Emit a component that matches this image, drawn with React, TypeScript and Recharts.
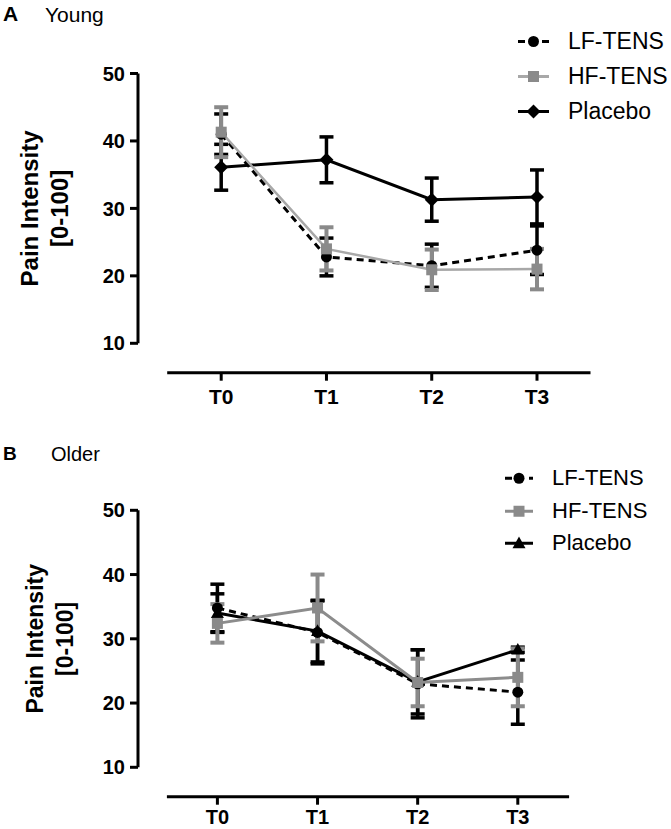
import { LineChart, Line, XAxis, YAxis, ErrorBar, Legend } from "recharts";

const timepoints = ["T0", "T1", "T2", "T3"];
const yTicks = [10, 20, 30, 40, 50];
const seriesNames = ["LF-TENS", "HF-TENS", "Placebo"];

// A: young
const lfYoung = [41.0, 22.8, 21.5, 23.8];
const lfYoungSem = [3.0, 2.8, 3.2, 3.6];
const hfYoung = [41.3, 24.0, 20.9, 21.0];
const hfYoungSem = [3.7, 3.2, 3.0, 3.0];
const placeboYoung = [36.1, 37.2, 31.3, 31.7];
const placeboYoungSem = [3.4, 3.4, 3.2, 4.0];

// B: older
const lfOlder = [34.8, 31.0, 23.0, 21.7];
const lfOlderSem = [3.7, 4.9, 5.3, 5.0];
const hfOlder = [32.4, 34.8, 23.2, 24.0];
const hfOlderSem = [3.0, 5.2, 3.7, 4.5];
const placeboOlder = [34.0, 31.2, 23.3, 28.3];
const placeboOlderSem = [3.0, 4.8, 5.0, 0.4];

const FONT = '"Liberation Sans", Arial, Helvetica, sans-serif';

type Shape = "circle" | "square" | "diamond" | "triangle";

function buildRows(lf: number[], lfE: number[], hf: number[], hfE: number[], pl: number[], plE: number[]) {
  return timepoints.map((t, i) => ({
    t,
    lf: lf[i],
    lfErr: lfE[i],
    hf: hf[i],
    hfErr: hfE[i],
    placebo: pl[i],
    placeboErr: plE[i],
  }));
}

const youngRows = buildRows(lfYoung, lfYoungSem, hfYoung, hfYoungSem, placeboYoung, placeboYoungSem);
const olderRows = buildRows(lfOlder, lfOlderSem, hfOlder, hfOlderSem, placeboOlder, placeboOlderSem);

function Marker({ cx, cy, shape, size, fill }: { cx: number; cy: number; shape: Shape; size: number; fill: string }) {
  const h = size / 2;
  if (shape === "circle") return <circle cx={cx} cy={cy} r={h} fill={fill} />;
  if (shape === "square") return <rect x={cx - h} y={cy - h} width={size} height={size} fill={fill} />;
  if (shape === "diamond")
    return <polygon points={`${cx},${cy - h} ${cx + h},${cy} ${cx},${cy + h} ${cx - h},${cy}`} fill={fill} />;
  return <polygon points={`${cx},${cy - h * 1.05} ${cx + h},${cy + h * 0.75} ${cx - h},${cy + h * 0.75}`} fill={fill} />;
}

const makeDot = (shape: Shape, size: number, fill: string) => (props: any) => {
  const { cx, cy, index } = props;
  if (cx == null || cy == null) return <g key={`d-${index}`} />;
  return <Marker key={`d-${index}`} cx={cx} cy={cy} shape={shape} size={size} fill={fill} />;
};

interface PanelProps {
  rows: ReturnType<typeof buildRows>;
  top: number;
  height: number;
  marginTop: number;
  marginRight: number;
  padBottom: number;
  yLineLen: number;
  padLeft: number;
  padRight: number;
  xGap: number;
  xAxisHeight: number;
  xTickFont: number;
  xTickMargin: number;
  labelSize: number;
  labelX: [number, number];
  legendLeft: number;
  legendTop: number;
  legendRow: number;
  legendFont: number;
  legendSvgW: number;
  hfLine: string;
  hfLineWidth: number;
  placeboShape: Shape;
}

function Panel(p: PanelProps) {
  const styles: Record<string, { stroke: string; width: number; dash?: string; shape: Shape; size: number; fill: string }> = {
    "LF-TENS": { stroke: "#000", width: 3, dash: "7 5", shape: "circle", size: 11, fill: "#000" },
    "HF-TENS": { stroke: p.hfLine, width: p.hfLineWidth, shape: "square", size: 11, fill: "#8a8a8a" },
    Placebo: {
      stroke: "#000",
      width: 3,
      shape: p.placeboShape,
      size: p.placeboShape === "diamond" ? 14 : 13,
      fill: "#000",
    },
  };

  const renderLegend = () => (
    <div style={{ fontFamily: FONT, color: "#000" }}>
      {seriesNames.map((name) => {
        const s = styles[name];
        const mid = p.legendSvgW / 2 - 8;
        return (
          <div key={name} style={{ display: "flex", alignItems: "center", height: p.legendRow }}>
            <svg width={p.legendSvgW} height={p.legendRow} style={{ display: "block" }}>
              <line
                x1={3}
                x2={mid * 2 - 3}
                y1={p.legendRow / 2}
                y2={p.legendRow / 2}
                stroke={s.stroke}
                strokeWidth={3}
                strokeDasharray={s.dash}
              />
              <Marker cx={mid} cy={p.legendRow / 2} shape={s.shape} size={s.size} fill={s.fill} />
            </svg>
            <span style={{ fontSize: p.legendFont, lineHeight: 1 }}>{name}</span>
          </div>
        );
      })}
    </div>
  );

  const renderAxisTitle = (props: any) => {
    const vb = props.viewBox || { y: p.marginTop, height: p.height - p.marginTop - p.xAxisHeight };
    const cy = vb.y + (vb.height - p.padBottom) / 2;
    return (
      <g fontFamily={FONT} fontWeight="bold" fontSize={p.labelSize} fill="#000">
        <text x={p.labelX[0]} y={cy} textAnchor="middle" transform={`rotate(-90, ${p.labelX[0]}, ${cy})`}>
          Pain Intensity
        </text>
        <text x={p.labelX[1]} y={cy} textAnchor="middle" transform={`rotate(-90, ${p.labelX[1]}, ${cy})`}>
          [0-100]
        </text>
      </g>
    );
  };

  const order = ["Placebo", "LF-TENS", "HF-TENS"];
  const keys: Record<string, string> = { "LF-TENS": "lf", "HF-TENS": "hf", Placebo: "placebo" };

  return (
    <div style={{ position: "absolute", left: 0, top: p.top }}>
      <LineChart
        width={671}
        height={p.height}
        data={p.rows}
        margin={{ top: p.marginTop, right: p.marginRight, left: 0, bottom: 0 }}
      >
        <XAxis
          dataKey="t"
          height={p.xAxisHeight}
          padding={{ left: p.padLeft, right: p.padRight }}
          axisLine={{ stroke: "#000", strokeWidth: 3, strokeDasharray: `0 ${p.xGap} 2000` }}
          tickLine={{ stroke: "#000", strokeWidth: 3 }}
          tickSize={8}
          tickMargin={p.xTickMargin}
          tick={{ fill: "#000", fontSize: p.xTickFont, fontWeight: "bold", fontFamily: FONT }}
        />
        <YAxis
          width={138}
          domain={[10, 50]}
          ticks={yTicks}
          interval={0}
          padding={{ top: 0, bottom: p.padBottom }}
          axisLine={{ stroke: "#000", strokeWidth: 3, strokeDasharray: `${p.yLineLen} 2000` }}
          tickLine={{ stroke: "#000", strokeWidth: 3 }}
          tickSize={8}
          tickMargin={5}
          tick={{ fill: "#000", fontSize: 20, fontWeight: "bold", fontFamily: FONT }}
          label={renderAxisTitle}
        />
        <Legend
          layout="vertical"
          align="center"
          verticalAlign="middle"
          content={renderLegend}
          wrapperStyle={{ left: p.legendLeft, top: p.legendTop, width: 671 - p.legendLeft }}
        />
        {order.map((name) => {
          const s = styles[name];
          const k = keys[name];
          return (
            <Line
              key={name}
              name={name}
              dataKey={k}
              stroke={s.stroke}
              strokeWidth={s.width}
              strokeDasharray={s.dash}
              dot={makeDot(s.shape, s.size, s.fill)}
              activeDot={false}
              isAnimationActive={false}
            >
              <ErrorBar
                dataKey={`${k}Err`}
                width={7}
                direction="y"
                stroke={name === "HF-TENS" ? "#8a8a8a" : "#000"}
                strokeWidth={name === "HF-TENS" ? 4 : 3.5}
                isAnimationActive={false}
              />
            </Line>
          );
        })}
      </LineChart>
    </div>
  );
}

export default function App() {
  return (
    <div style={{ position: "absolute", left: 0, top: 0, width: 671, height: 829, background: "#fff" }}>
      <Panel
        rows={youngRows}
        top={0}
        height={415}
        marginTop={73.5}
        marginRight={80.5}
        padBottom={29.4}
        yLineLen={269.8}
        padLeft={83.2}
        padRight={53.5}
        xGap={29.2}
        xAxisHeight={42.3}
        xTickFont={21}
        xTickMargin={8}
        labelSize={24}
        labelX={[38.5, 68.5]}
        legendLeft={515}
        legendTop={24.2}
        legendRow={35}
        legendFont={23}
        legendSvgW={53}
        hfLine="#a8a8a8"
        hfLineWidth={2.5}
        placeboShape="diamond"
      />
      <Panel
        rows={olderRows}
        top={415}
        height={414}
        marginTop={95.3}
        marginRight={101.9}
        padBottom={29.4}
        yLineLen={257}
        padLeft={79.4}
        padRight={51.3}
        xGap={28.9}
        xAxisHeight={32.3}
        xTickFont={20}
        xTickMargin={5}
        labelSize={23}
        labelX={[43, 73]}
        legendLeft={502}
        legendTop={47}
        legendRow={32.5}
        legendFont={22}
        legendSvgW={50}
        hfLine="#8c8c8c"
        hfLineWidth={3}
        placeboShape="triangle"
      />
      <svg
        width={671}
        height={829}
        style={{ position: "absolute", left: 0, top: 0, pointerEvents: "none" }}
        fontFamily={FONT}
        fill="#000"
      >
        <text x={3} y={21} fontSize={21} fontWeight="bold">
          A
        </text>
        <text x={45} y={21.5} fontSize={21}>
          Young
        </text>
        <text x={3} y={460} fontSize={19} fontWeight="bold">
          B
        </text>
        <text x={51} y={461} fontSize={20}>
          Older
        </text>
      </svg>
    </div>
  );
}
